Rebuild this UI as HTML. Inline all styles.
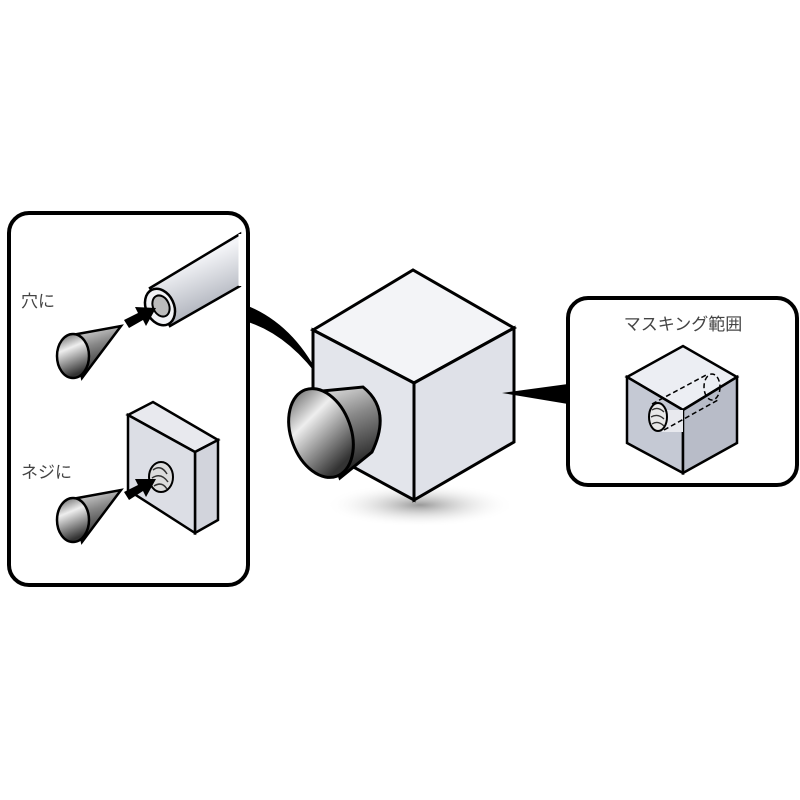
<!DOCTYPE html>
<html><head><meta charset="utf-8"><style>body{margin:0;background:#fff}svg{display:block}text{font-family:"Liberation Sans","Noto Sans CJK JP",sans-serif;fill:#444}</style></head><body>
<svg width="800" height="800" viewBox="0 0 800 800" xmlns="http://www.w3.org/2000/svg">
<defs>
<linearGradient id="cone" x1="0" y1="0" x2="0.3" y2="1"><stop offset="0" stop-color="#eee"/><stop offset=".45" stop-color="#888"/><stop offset="1" stop-color="#222"/></linearGradient>
<linearGradient id="coneb" x1="0" y1="0" x2="0.3" y2="1"><stop offset="0" stop-color="#555"/><stop offset=".4" stop-color="#eee"/><stop offset="1" stop-color="#333"/></linearGradient>
<linearGradient id="tube" x1="0" y1="0" x2="0.4" y2="1"><stop offset="0" stop-color="#b8bcc6"/><stop offset=".4" stop-color="#f4f5f8"/><stop offset="1" stop-color="#a8acb6"/></linearGradient>
<radialGradient id="sh" cx=".5" cy=".5" r=".5"><stop offset="0" stop-color="#999"/><stop offset="1" stop-color="#fff" stop-opacity="0"/></radialGradient>
</defs>
<!-- left panel -->
<rect x="9" y="213" width="239" height="372" rx="20" fill="#fff" stroke="#000" stroke-width="4"/>
<text x="21" y="307" font-size="17">穴に</text>
<text x="21" y="478" font-size="17">ネジに</text>
<!-- tube -->
<path d="M150,288 L240,234 L240,286 L170,326 Z" fill="url(#tube)" stroke="#000" stroke-width="2.5"/>
<path d="M240,234 L240,286" stroke="#fff" stroke-width="3"/>
<ellipse cx="160" cy="307" rx="14" ry="19" transform="rotate(-25 160 307)" fill="#f2f3f6" stroke="#000" stroke-width="2.5"/>
<ellipse cx="161" cy="306" rx="8" ry="11" transform="rotate(-25 161 306)" fill="#bbb" stroke="#000" stroke-width="2"/>
<path d="M124,320 L138,313 L135,307 L156,308 L146,326 L143,320 L129,328 Z" fill="#000"/>
<path d="M72,335 L121,326 L82,378 Z" fill="url(#cone)" stroke="#000" stroke-width="2.5"/>
<ellipse cx="73" cy="356" rx="16" ry="22" fill="url(#coneb)" stroke="#000" stroke-width="2.5"/>
<!-- nut -->
<path d="M128,415 L153,402 L218,440 L195,452 Z" fill="#e8e9ee" stroke="#000" stroke-width="2.5"/>
<path d="M195,452 L218,440 L218,520 L195,533 Z" fill="#d2d4dc" stroke="#000" stroke-width="2.5"/>
<path d="M128,415 L195,452 L195,533 L128,490 Z" fill="#dcdee5" stroke="#000" stroke-width="2.5"/>
<ellipse cx="161" cy="477" rx="12" ry="15" fill="#ddd" stroke="#000" stroke-width="2"/>
<path d="M153,470 q8,-6 14,4 M152,478 q9,-6 16,4 M154,486 q8,-5 13,3" stroke="#333" fill="none" stroke-width="1.5"/>
<path d="M124,492 L138,485 L135,479 L156,479 L146,497 L143,491 L129,500 Z" fill="#000"/>
<path d="M72,499 L121,490 L82,542 Z" fill="url(#cone)" stroke="#000" stroke-width="2.5"/>
<ellipse cx="73" cy="520" rx="16" ry="22" fill="url(#coneb)" stroke="#000" stroke-width="2.5"/>
<!-- left connector -->
<path d="M248,306 Q296,326 322,382 Q290,336 248,322 Z" fill="#000"/>
<!-- shadow -->
<ellipse cx="420" cy="505" rx="95" ry="22" fill="url(#sh)"/>
<!-- main cube -->
<path d="M313,330 L413,270 L514,328 L414,383 Z" fill="#f3f4f7" stroke="#000" stroke-width="3"/>
<path d="M313,330 L414,383 L414,500 L313,445 Z" fill="#e3e5eb" stroke="#000" stroke-width="3"/>
<path d="M414,383 L514,328 L514,442 L414,500 Z" fill="#dfe1e8" stroke="#000" stroke-width="3"/>
<!-- big cone -->
<path d="M312,392 L363,387 Q392,410 372,452 L340,478 Z" fill="url(#cone)" stroke="#000" stroke-width="3"/>
<ellipse cx="321" cy="433" rx="30" ry="46" transform="rotate(-20 321 433)" fill="url(#coneb)" stroke="#000" stroke-width="3"/>
<!-- right connector -->
<path d="M502,393 L568,384 L568,404 Z" fill="#000"/>
<!-- right panel -->
<rect x="568" y="298" width="229" height="187" rx="20" fill="#fff" stroke="#000" stroke-width="4"/>
<text x="683" y="330" font-size="17" text-anchor="middle">マスキング範囲</text>
<path d="M627,377 L683,346 L737,377 L683,410 Z" fill="#eceef3" stroke="#000" stroke-width="2.5"/>
<path d="M627,377 L683,410 L683,473 L627,443 Z" fill="#c5c9d4" stroke="#000" stroke-width="2.5"/>
<path d="M683,410 L737,377 L737,443 L683,473 Z" fill="#b8bcc8" stroke="#000" stroke-width="2.5"/>
<path d="M660,410 L683,410 L683,432 L662,432 Z" fill="#e8e9ee"/>
<path d="M652,404 L708,374 M664,430 L718,400" stroke="#000" stroke-width="1.5" stroke-dasharray="5,3"/>
<ellipse cx="712" cy="387" rx="8" ry="13" fill="none" stroke="#000" stroke-width="1.5" stroke-dasharray="5,3"/>
<ellipse cx="658" cy="417" rx="9" ry="14" fill="#e8e8e8" stroke="#000" stroke-width="2"/>
<path d="M652,410 q6,-4 12,2 M651,417 q7,-4 13,2 M652,424 q6,-4 12,2" stroke="#333" fill="none" stroke-width="1.3"/>
</svg>
</body></html>
